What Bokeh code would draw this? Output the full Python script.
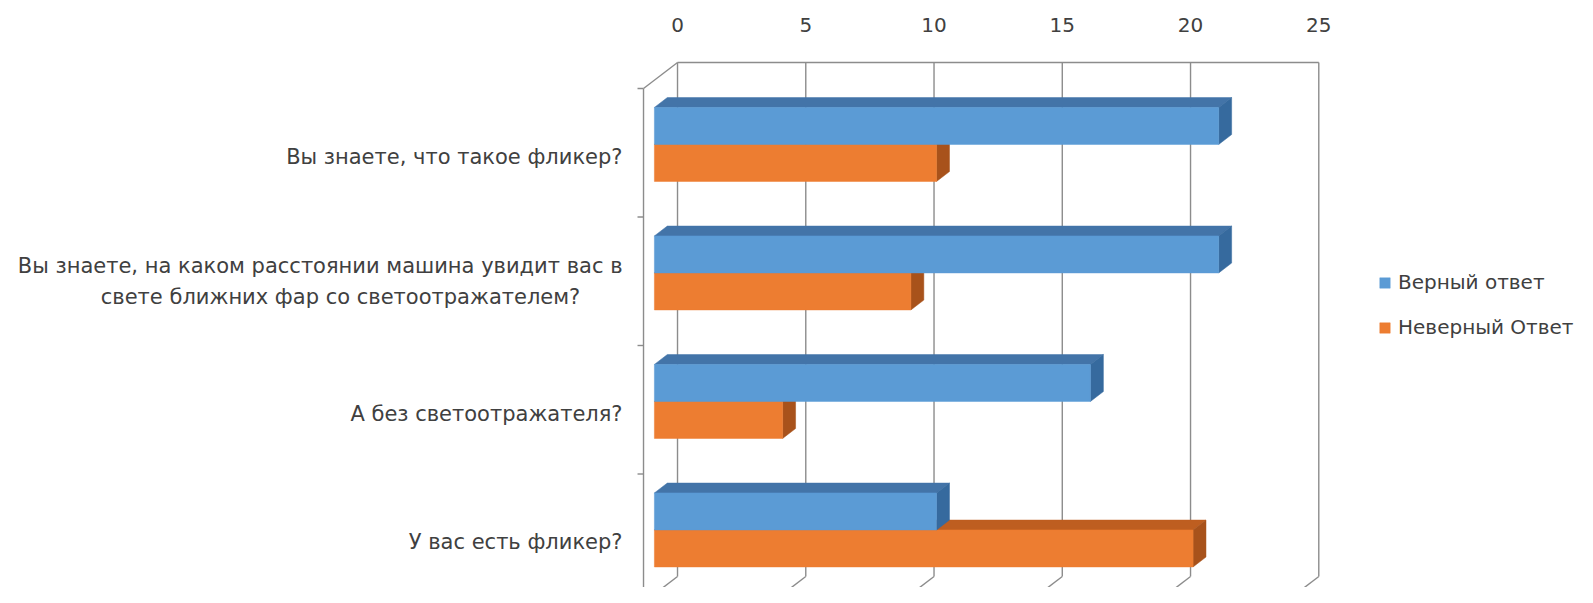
from bokeh.plotting import figure
from bokeh.models import Range1d, FixedTicker, Legend, LegendItem
from bokeh.core.properties import value
from bokeh.embed import file_html
from bokeh.resources import INLINE

# ---- data ----
categories = [
    "Вы знаете, что такое фликер?",
    "Вы знаете, на каком расстоянии машина увидит вас в\nсвете ближних фар со светоотражателем?",
    "А без светоотражателя?",
    "У вас есть фликер?",
]
correct = [22, 22, 17, 11]
wrong = [11, 10, 5, 21]
series_names = ["Верный ответ", "Неверный Ответ"]
ticks = [0, 5, 10, 15, 20, 25]

# ---- geometry / style ----
PX_X = 25.65          # px per value unit
PX_Y = 128.5          # px per category
DX = 34 / PX_X        # depth offset in x units
DY = 26 / PX_Y        # depth offset in y units
D1, D2 = 0.32, 0.70   # bar depth (front, back)
BAR_H = 37 / PX_Y
FONT_NAME = "DejaVu Sans"
FONT = value(FONT_NAME)
TXT = "#404040"
GRID = "#8c8c8c"

FRONT = ["#5B9BD5", "#ED7D31"]
TOP = ["#4374A8", "#BE5E20"]
SIDE = ["#366A9E", "#A8521B"]

n = len(categories)
xmax = ticks[-1]
SHIFT_X = 6 / PX_X
SHIFT_Y = 9 / PX_Y

def pt(u, Y, d):
    return u + (d - 1) * DX, Y + d * DY

p = figure(width=1577, height=587, output_backend="svg", toolbar_location=None,
           x_axis_location="above", y_axis_location=None,
           x_range=Range1d(-26.16 - SHIFT_X, 35.32 - SHIFT_X),
           y_range=Range1d(0.0467 + SHIFT_Y, 4.3035 + SHIFT_Y),
           min_border_top=40, min_border_left=0, min_border_right=0, min_border_bottom=0)
p.outline_line_color = None
p.xgrid.visible = False
p.ygrid.visible = False
p.background_fill_color = "white"

ax = p.xaxis[0]
ax.ticker = FixedTicker(ticks=ticks)
ax.axis_line_color = None
ax.major_tick_line_color = None
ax.minor_tick_line_color = None
ax.major_tick_out = 0
ax.major_tick_in = 0
ax.major_label_standoff = 9
ax.major_label_text_font = FONT_NAME
ax.major_label_text_font_size = "20px"
ax.major_label_text_color = TXT

# ---- walls / gridlines ----
tx = list(ticks)
p.segment(x0=tx, y0=[DY] * len(tx), x1=tx, y1=[n + DY] * len(tx), line_color=GRID, line_width=1.4)
p.segment(x0=tx, y0=[DY] * len(tx), x1=[t - DX for t in tx], y1=[0] * len(tx), line_color=GRID, line_width=1.4)
p.segment(x0=[0, -DX, 0], y0=[n + DY, 0, n + DY], x1=[-DX, -DX, xmax], y1=[n, n, n + DY],
          line_color=GRID, line_width=1.4)
tick_len = 6 / PX_X
kk = list(range(n + 1))
p.segment(x0=[-DX - tick_len] * len(kk), y0=kk, x1=[-DX] * len(kk), y1=kk, line_color=GRID, line_width=1.4)

# ---- bars ----
front_renderers = []
for s, vals in ((1, wrong), (0, correct)):
    fx, fy, tpx, tpy, sx, sy = [], [], [], [], [], []
    for i, v in enumerate(vals):
        c = n - i - 0.5
        yb = c if s == 0 else c - BAR_H
        yt = yb + BAR_H
        corners = [pt(0, yb, D1), pt(v, yb, D1), pt(v, yt, D1), pt(0, yt, D1)]
        fx.append([q[0] for q in corners]); fy.append([q[1] for q in corners])
        corners = [pt(0, yt, D1), pt(v, yt, D1), pt(v, yt, D2), pt(0, yt, D2)]
        tpx.append([q[0] for q in corners]); tpy.append([q[1] for q in corners])
        corners = [pt(v, yb, D1), pt(v, yt, D1), pt(v, yt, D2), pt(v, yb, D2)]
        sx.append([q[0] for q in corners]); sy.append([q[1] for q in corners])
    p.patches(tpx, tpy, fill_color=TOP[s], line_color=TOP[s], line_width=0.5)
    p.patches(sx, sy, fill_color=SIDE[s], line_color=SIDE[s], line_width=0.5)
    r = p.patches(fx, fy, fill_color=FRONT[s], line_color=FRONT[s], line_width=0.5)
    front_renderers.append((s, r))

# ---- category labels ----
label_x = -55 / PX_X
line_gap = 31 / PX_Y
single_off = 4 / PX_Y
lx, ly, lt, cx, cy, ct = [], [], [], [], [], []
for i, cat in enumerate(categories):
    c = n - i - 0.5
    lines = cat.split("\n")
    if len(lines) == 1:
        lx.append(label_x); ly.append(c - single_off); lt.append(cat)
    else:
        lx.append(label_x); ly.append(c + line_gap / 2); lt.append(lines[0])
        cx.append(label_x - 282 / PX_X); cy.append(c - line_gap / 2); ct.append(lines[1])
p.text(x=lx, y=ly, text=lt, text_align="right", text_baseline="middle",
       text_font=FONT, text_font_size="21px", text_color=TXT)
p.text(x=cx, y=cy, text=ct, text_align="center", text_baseline="middle",
       text_font=FONT, text_font_size="21px", text_color=TXT)

# ---- legend ----
rmap = dict(front_renderers)
legend = Legend(items=[LegendItem(label=series_names[0], renderers=[rmap[0]]),
                       LegendItem(label=series_names[1], renderers=[rmap[1]])],
                location=(1378, 248), orientation="vertical",
                glyph_width=13, glyph_height=13, label_standoff=7, spacing=21,
                padding=0, margin=0, border_line_color=None, background_fill_alpha=0,
                label_text_font=FONT_NAME, label_text_font_size="20px", label_text_color=TXT)
p.add_layout(legend)

open("out.html", "w").write(file_html(p, INLINE))
